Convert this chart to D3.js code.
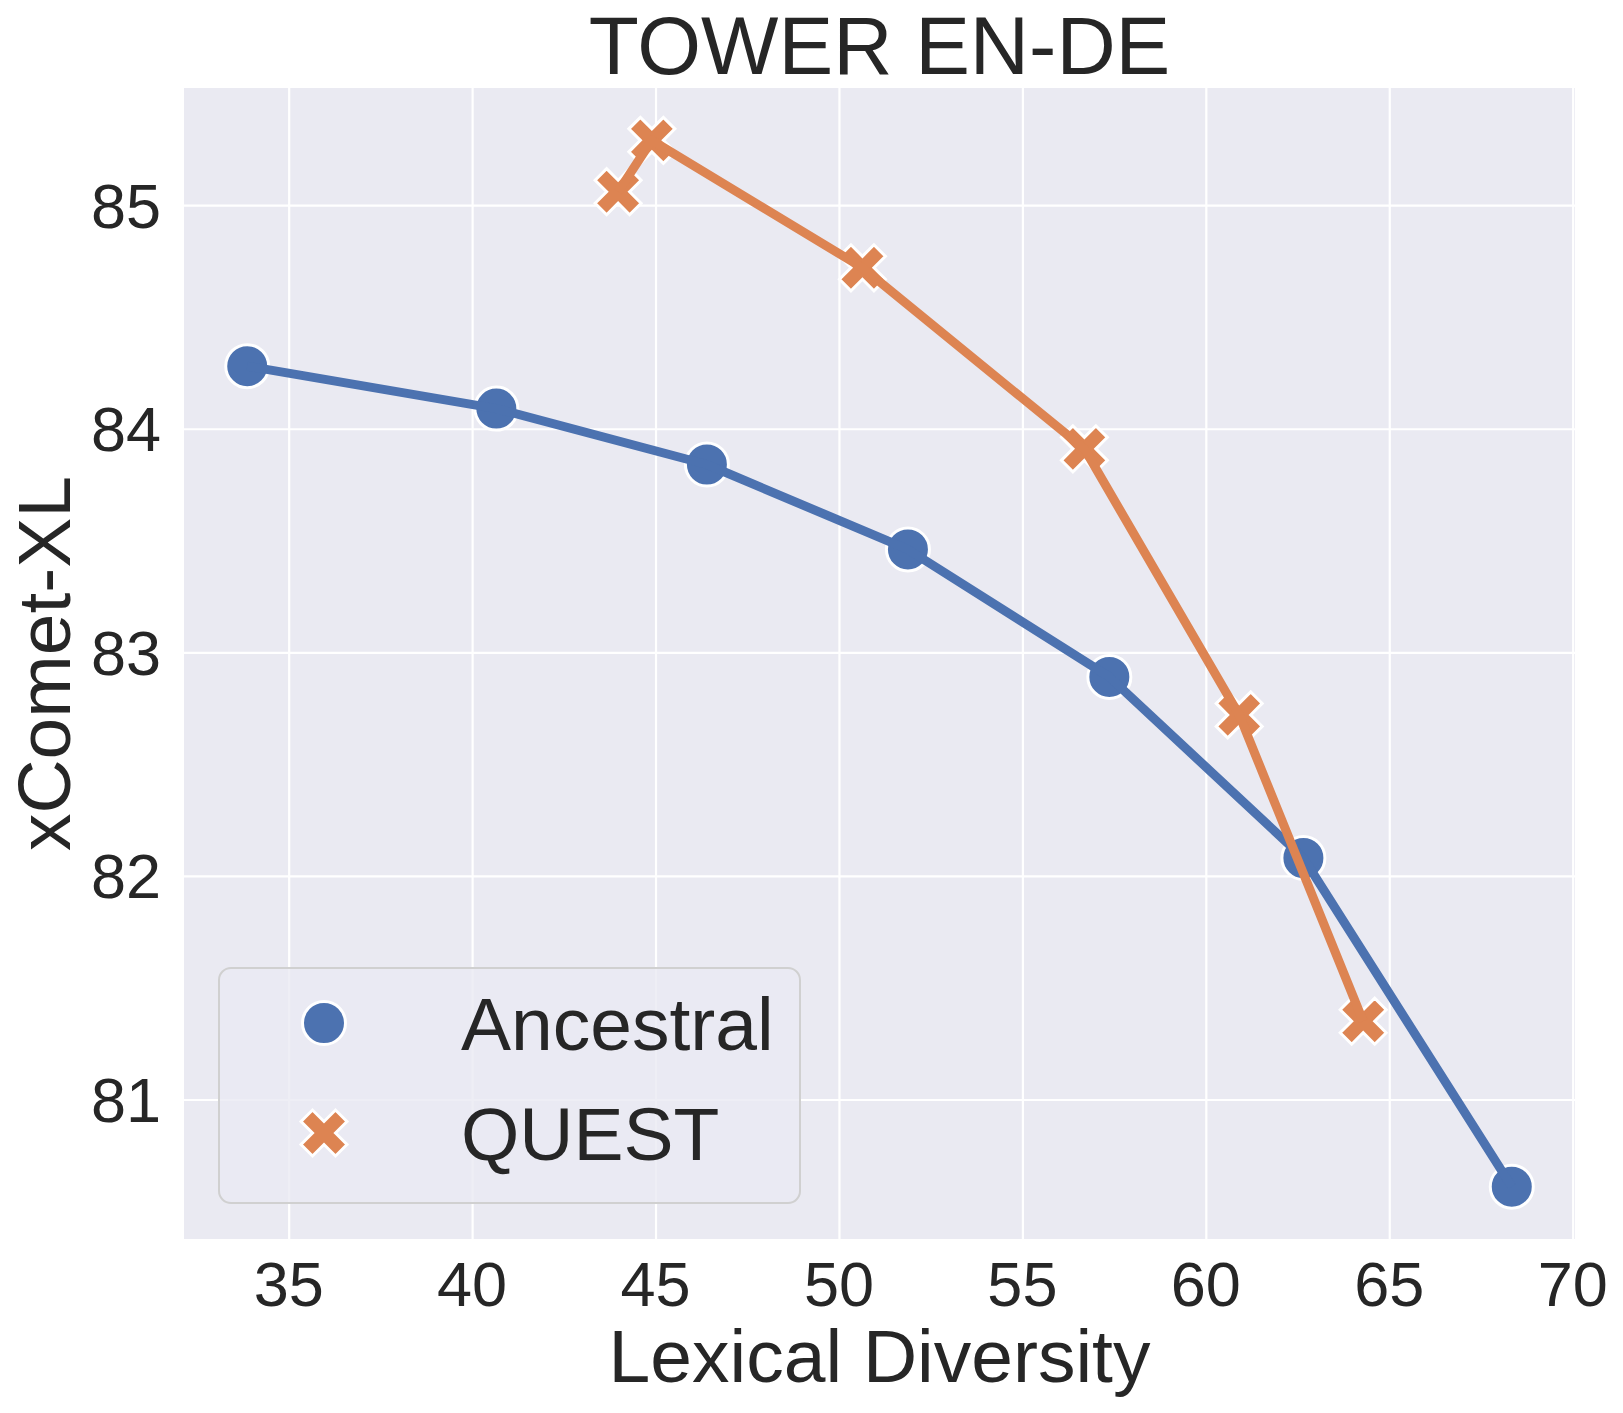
<!DOCTYPE html>
<html>
<head>
<meta charset="utf-8">
<script src="https://cdn.jsdelivr.net/npm/d3@7"></script>
<style>
  body { margin: 0; background: #fff; }
  text { font-family: "Liberation Sans", Arial, sans-serif; fill: #262626; }
</style>
</head>
<body>
<div id="chart"></div>
<script>
// data
const ancestralX = [33.87, 40.66, 46.40, 51.88, 57.37, 62.66, 68.34];
const ancestralY = [84.28, 84.09, 83.84, 83.46, 82.89, 82.08, 80.61];
const questX = [43.98, 44.90, 50.64, 56.69, 60.91, 64.29];
const questY = [85.06, 85.29, 84.72, 83.91, 82.72, 81.35];
const xTicks = [35, 40, 45, 50, 55, 60, 65, 70];
const yTicks = [81, 82, 83, 84, 85];
const seriesNames = ['Ancestral', 'QUEST'];

const W = 1623, H = 1413;
const plot = {left: 184, right: 1575, top: 88, bottom: 1239};
const colors = ['#4c72b0', '#dd8452'];

const series = [
	{name: seriesNames[0], marker: 'o', pts: ancestralX.map((x, i) => ({x, y: ancestralY[i]}))},
	{name: seriesNames[1], marker: 'X', pts: questX.map((x, i) => ({x, y: questY[i]}))}
];

const _paddedExtent = (vals) => {
	const [a, b] = d3.extent(vals);
	const m = (b - a) * 0.05;
	return [a - m, b + m];
};

const xScale = d3.scaleLinear()
	.domain(_paddedExtent(ancestralX.concat(questX)))
	.range([plot.left, plot.right]);
const yScale = d3.scaleLinear()
	.domain(_paddedExtent(ancestralY.concat(questY)))
	.range([plot.bottom, plot.top]);

const svg = d3.select('#chart').append('svg')
	.attr('width', W)
	.attr('height', H);

svg.append('rect')
	.attr('x', plot.left).attr('y', plot.top)
	.attr('width', plot.right - plot.left)
	.attr('height', plot.bottom - plot.top)
	.attr('fill', '#eaeaf2');

// grid
svg.append('g')
	.attr('transform', `translate(0, ${plot.bottom})`)
	.call(d3.axisBottom(xScale).tickValues(xTicks).tickSize(-(plot.bottom - plot.top)).tickFormat(''))
	.call(g => g.select('.domain').remove())
	.call(g => g.selectAll('line').attr('stroke', '#fff').attr('stroke-width', 2.2));
svg.append('g')
	.attr('transform', `translate(${plot.left}, 0)`)
	.call(d3.axisLeft(yScale).tickValues(yTicks).tickSize(-(plot.right - plot.left)).tickFormat(''))
	.call(g => g.select('.domain').remove())
	.call(g => g.selectAll('line').attr('stroke', '#fff').attr('stroke-width', 2.2));

// tick labels
svg.append('g').selectAll('text')
	.data(xTicks).enter().append('text')
	.attr('x', d => xScale(d))
	.attr('y', 1306)
	.attr('text-anchor', 'middle')
	.style('font-size', '63px')
	.text(d => d);
svg.append('g').selectAll('text')
	.data(yTicks).enter().append('text')
	.attr('x', 161)
	.attr('y', d => yScale(d) + 22.5)
	.attr('text-anchor', 'end')
	.style('font-size', '63px')
	.text(d => d);

// titles
svg.append('text')
	.attr('x', (plot.left + plot.right) / 2).attr('y', 74)
	.attr('text-anchor', 'middle')
	.style('font-size', '82px')
	.text('TOWER EN-DE');
svg.append('text')
	.attr('x', (plot.left + plot.right) / 2).attr('y', 1382)
	.attr('text-anchor', 'middle')
	.style('font-size', '75px')
	.text('Lexical Diversity');
svg.append('text')
	.attr('transform', `translate(70, ${(plot.top + plot.bottom) / 2}) rotate(-90)`)
	.attr('text-anchor', 'middle')
	.style('font-size', '75px')
	.text('xComet-XL');

const xPath = (h) => {
	const p = [[0.5,0],[1,0.5],[0.5,1],[0,0.5],[-0.5,1],[-1,0.5],[-0.5,0],[-1,-0.5],[-0.5,-1],[0,-0.5],[0.5,-1],[1,-0.5]];
	return 'M' + p.map(d => `${d[0] * h},${d[1] * h}`).join('L') + 'Z';
};

const _drawMarker = (g, type, color) => {
	if (type === 'o') {
		g.append('circle').attr('r', 21.5)
			.attr('fill', color).attr('stroke', '#fff').attr('stroke-width', 3);
	} else {
		g.append('path').attr('d', xPath(23))
			.attr('fill', color).attr('stroke', '#fff').attr('stroke-width', 3)
			.attr('stroke-linejoin', 'miter');
	}
};

const line = d3.line().x(d => xScale(d.x)).y(d => yScale(d.y));

// markers first, then the line on top, one series after the other
series.forEach((s, i) => {
	const g = svg.append('g');
	g.selectAll('.pt')
		.data(s.pts).enter().append('g')
		.attr('class', 'pt')
		.attr('transform', d => `translate(${xScale(d.x)}, ${yScale(d.y)})`)
		.each(function() { _drawMarker(d3.select(this), s.marker, colors[i]); });
	g.append('path')
		.datum(s.pts)
		.attr('d', line)
		.attr('fill', 'none')
		.attr('stroke', colors[i])
		.attr('stroke-width', 9)
		.attr('stroke-linejoin', 'round')
		.attr('stroke-linecap', 'butt');
});

// legend
const legend = svg.append('g');
legend.append('rect')
	.attr('x', 219).attr('y', 968)
	.attr('width', 581).attr('height', 235)
	.attr('rx', 12).attr('ry', 12)
	.attr('fill', '#eaeaf2').attr('fill-opacity', 0.8)
	.attr('stroke', '#d0d0d0').attr('stroke-width', 2);
const legendY = [1023, 1133];
series.forEach((s, i) => {
	const item = legend.append('g').attr('transform', `translate(324, ${legendY[i]})`);
	_drawMarker(item, s.marker, colors[i]);
	legend.append('text')
		.attr('x', 461).attr('y', legendY[i] + 27)
		.style('font-size', '75px')
		.text(s.name);
});
</script>
</body>
</html>
